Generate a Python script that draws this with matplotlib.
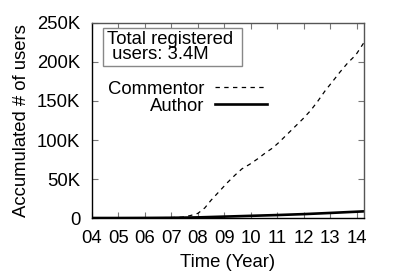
import matplotlib
matplotlib.use('Agg')
import matplotlib.pyplot as plt

plt.rcParams['font.family'] = ['Liberation Sans', 'DejaVu Sans']
plt.rcParams['font.size'] = 13.3

# accumulated users (in thousands)
commentor_years = [2004, 2005, 2006, 2007, 2007.4, 2007.7, 2008.0, 2008.26, 2008.5, 2008.83,
                   2009.1, 2009.4, 2009.66, 2009.96, 2010.26, 2010.53, 2010.83, 2011.06,
                   2011.36, 2011.66, 2011.96, 2012.26, 2012.53, 2012.8, 2013.06, 2013.36,
                   2013.66, 2013.96, 2014.25]
commentor_k = [0, 0, 0.2, 0.6, 1, 3, 6, 13, 23, 35,
               45, 55, 63, 69, 76, 83, 90, 97,
               107, 117, 127, 138, 150, 163, 174, 187,
               199, 209, 224]

author_years = [2004, 2005, 2006, 2007, 2008, 2009, 2010, 2011, 2012, 2013, 2014.25]
author_k = [0, 0, 0.1, 0.3, 0.8, 1.8, 2.8, 3.8, 5.0, 6.5, 8.5]

year_ticks = list(range(2004, 2015))
year_labels = ['%02d' % (y % 100) for y in year_ticks]
y_ticks = [0, 50, 100, 150, 200, 250]
y_labels = ['0', '50K', '100K', '150K', '200K', '250K']

fig = plt.figure(figsize=(3.99, 2.79), dpi=100)
ax = fig.add_axes([0.2306, 0.2186, 0.6817, 0.699])

ax.plot(commentor_years, commentor_k, color='black', lw=0.9, linestyle=(0, (3.5, 3.5)), label='Commentor')
ax.plot(author_years, author_k, color='black', lw=1.9, label='Author')

ax.set_xlim(2004, 2014.27)
ax.set_ylim(0, 250)
ax.set_xticks(year_ticks)
ax.set_xticklabels(year_labels)
ax.set_yticks(y_ticks)
ax.set_yticklabels(y_labels)
ax.tick_params(direction='in', length=4, width=0.8, color='#777777',
               top=True, right=True, pad=8.5)
ax.tick_params(axis='x', pad=8.5)
for s in ax.spines.values():
    s.set_color('#555555')
    s.set_linewidth(1.0)
ax.spines['left'].set_color('black')
ax.spines['bottom'].set_color('black')

ax.set_xlabel('Time (Year)', labelpad=5)
ax.set_ylabel('Accumulated # of users', labelpad=5)

ax.text(0.055, 0.877, 'Total registered \n users: 3.4M', transform=ax.transAxes,
        ha='left', va='center', linespacing=0.8,
        bbox=dict(boxstyle='square,pad=0.2', fc='white', ec='#888888', lw=1.0))

ax.legend(loc='upper right', bbox_to_anchor=(0.643, 0.705), frameon=False,
          markerfirst=False, handlelength=2.8, handletextpad=0.6,
          labelspacing=0.0, borderpad=0, borderaxespad=0)

fig.savefig('out.png', dpi=100)
